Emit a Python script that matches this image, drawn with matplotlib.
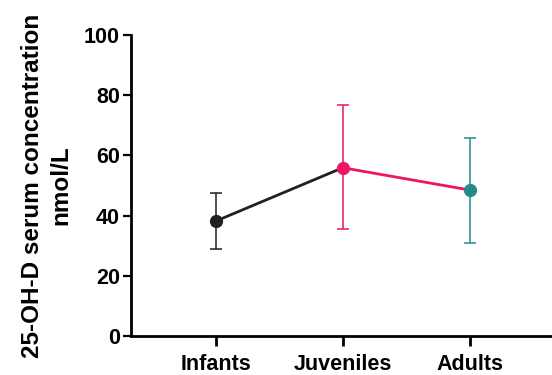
import numpy as np
import matplotlib
matplotlib.use("Agg")
import matplotlib.pyplot as plt

plt.rcParams["font.family"] = ["Liberation Sans", "DejaVu Sans"]
plt.rcParams["font.weight"] = "bold"

groups = ["Infants", "Juveniles", "Adults"]
means = [38.2, 55.9, 48.5]
upper = [47.5, 76.8, 65.9]
lower = [28.9, 35.5, 30.9]
colors = ["#231f20", "#ec1566", "#23898a"]

x = np.arange(len(groups))

fig = plt.figure(figsize=(5.52, 3.75), dpi=100)
ax = fig.add_axes([0.2373, 0.104, 0.7627, 0.8027])

# connecting lines: black from infants, pink from juveniles
ax.plot(x[0:2], means[0:2], color=colors[0], lw=2.0, zorder=2)
ax.plot(x[1:3], means[1:3], color=colors[1], lw=2.0, zorder=2)

for i in range(len(groups)):
    ax.errorbar(x[i], means[i],
                yerr=[[means[i] - lower[i]], [upper[i] - means[i]]],
                fmt="o", color=colors[i], ms=8.5, elinewidth=1.1,
                capsize=4.5, capthick=1.1, zorder=3)

ax.set_xlim(-0.67, 2.65)
ax.set_ylim(0, 100)
ax.set_yticks([0, 20, 40, 60, 80, 100])
ax.set_xticks(x)
ax.set_xticklabels(groups)

for s in ["top", "right"]:
    ax.spines[s].set_visible(False)
for s in ["left", "bottom"]:
    ax.spines[s].set_linewidth(2.0)

ax.tick_params(axis="y", length=6, width=1.6, labelsize=15.5, pad=2)
ax.tick_params(axis="x", length=7, width=2.0, labelsize=15.5, pad=6)

ax.set_ylabel("25-OH-D serum concentration\nnmol/L", fontsize=17.5,
              fontweight="bold", linespacing=1.3, labelpad=8)

fig.savefig("out.png", dpi=100)
